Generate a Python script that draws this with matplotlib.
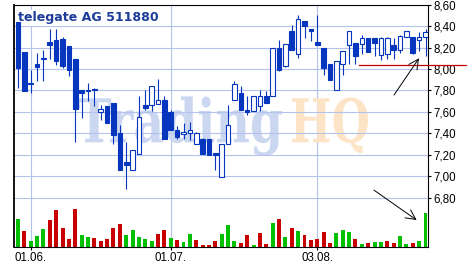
import matplotlib
matplotlib.use("Agg")
import matplotlib.pyplot as plt
import numpy as np
from matplotlib.textpath import TextPath
from matplotlib.patches import PathPatch
from matplotlib.font_manager import FontProperties
from matplotlib.transforms import Affine2D

# daily candles, 28.05. - 26.08.
opens = [8.44, 8.16, 7.86, 8.05, 8.09, 8.25, 8.27, 8.28, 8.21, 8.09,
         7.80, 7.79, 7.80, 7.60, 7.65, 7.68, 7.40, 7.13, 7.06, 7.21,
         7.66, 7.66, 7.67, 7.71, 7.60, 7.43, 7.39, 7.40, 7.30, 7.35,
         7.35, 7.21, 6.99, 7.30, 7.71, 7.78, 7.62, 7.61, 7.65, 7.75,
         7.75, 8.20, 8.03, 8.35, 8.14, 8.45, 8.37, 8.25, 8.20, 8.05,
         7.80, 8.05, 8.22, 8.24, 8.23, 8.29, 8.29, 8.13, 8.14, 8.22,
         8.18, 8.30, 8.30, 8.27, 8.30]
highs = [8.44, 8.16, 7.99, 8.15, 8.18, 8.37, 8.37, 8.30, 8.21, 8.09,
         7.80, 7.87, 7.82, 7.66, 7.65, 7.68, 7.48, 7.32, 7.24, 7.75,
         7.80, 7.84, 7.91, 7.75, 7.62, 7.47, 7.50, 7.51, 7.41, 7.36,
         7.35, 7.21, 7.30, 7.66, 7.89, 7.84, 7.75, 7.75, 7.80, 7.79,
         8.20, 8.27, 8.23, 8.41, 8.50, 8.45, 8.37, 8.50, 8.20, 8.05,
         8.07, 8.17, 8.35, 8.24, 8.32, 8.29, 8.29, 8.30, 8.30, 8.29,
         8.32, 8.35, 8.30, 8.34, 8.37]
lows = [7.82, 7.79, 7.78, 7.89, 7.89, 8.09, 8.04, 8.01, 7.93, 7.32,
        7.54, 7.70, 7.65, 7.52, 7.50, 7.30, 7.06, 6.88, 7.06, 7.21,
        7.62, 7.61, 7.67, 7.35, 7.43, 7.35, 7.35, 7.34, 7.30, 7.21,
        7.20, 7.06, 6.99, 7.30, 7.71, 7.62, 7.57, 7.61, 7.61, 7.68,
        7.75, 7.98, 8.02, 8.18, 8.10, 8.29, 8.26, 8.22, 7.94, 7.90,
        7.80, 7.94, 8.05, 8.05, 8.14, 8.16, 8.12, 8.08, 8.09, 8.09,
        8.15, 8.30, 8.14, 8.17, 8.12]
closes = [8.01, 7.79, 7.86, 8.02, 8.09, 8.22, 8.07, 8.03, 7.99, 7.63,
          7.78, 7.79, 7.80, 7.63, 7.50, 7.38, 7.06, 7.10, 7.24, 7.55,
          7.64, 7.84, 7.71, 7.35, 7.43, 7.37, 7.41, 7.43, 7.40, 7.21,
          7.20, 7.20, 7.30, 7.48, 7.86, 7.62, 7.60, 7.75, 7.75, 7.68,
          8.20, 7.99, 8.23, 8.18, 8.47, 8.40, 8.35, 8.22, 8.01, 7.90,
          8.07, 8.17, 8.35, 8.12, 8.29, 8.16, 8.24, 8.29, 8.29, 8.18,
          8.31, 8.35, 8.15, 8.30, 8.34]
volumes = [28, 16, 6, 11, 18, 27, 37, 19, 8, 38,
           12, 10, 9, 6, 8, 19, 23, 12, 17, 10,
           8, 6, 13, 17, 9, 7, 5, 13, 7, 2,
           2, 6, 13, 22, 6, 4, 12, 2, 14, 3,
           24, 28, 10, 19, 16, 12, 7, 8, 15, 4,
           14, 17, 15, 8, 3, 4, 5, 5, 6, 4,
           11, 3, 4, 6, 34]
vol_up = "grgggrrrrrggrrrrrgggggrrgrggrrrrgggrrgrrgrgrgrrrrrgggrgrggrrggrgg"
date_idx = [2, 24, 47]
date_labels = ["01.06.", "01.07.", "03.08."]
price_ticks = [6.80, 7.00, 7.20, 7.40, 7.60, 7.80, 8.00, 8.20, 8.40, 8.60]
support = 8.035

BLUE = "#0536bd"
GRID = "#b4c3ec"

o = np.array(opens); h = np.array(highs); l = np.array(lows); c = np.array(closes)
x = np.arange(len(o))

fig = plt.figure(figsize=(4.68, 2.63), dpi=100)
pos = [14 / 468, 16 / 263, 414 / 468, 242.4 / 263]
axv = fig.add_axes(pos)
ax = fig.add_axes(pos, sharex=axv)
ax.patch.set_alpha(0)

# volume (bottom layer, carries the vertical grid)
vcol = ["#00c000" if v == "g" else "#c80000" for v in vol_up]
axv.bar(x, volumes, width=0.62, color=vcol, zorder=3)
axv.set_ylim(0, 242.4)
axv.set_yticks([])
axv.grid(axis="x", color=GRID, lw=0.8)
axv.tick_params(axis="x", length=0, labelbottom=False)
for s in axv.spines.values():
    s.set_visible(False)

# candles
ax.vlines(x, l, h, color=BLUE, lw=0.8, zorder=3)
up = c >= o
bottom = np.minimum(o, c)
height = np.maximum(np.abs(c - o), 0.012)
ax.bar(x[up], height[up], bottom=bottom[up], width=0.72, facecolor="white",
       edgecolor=BLUE, lw=0.8, zorder=4)
ax.bar(x[~up], height[~up], bottom=bottom[~up], width=0.72, facecolor=BLUE,
       edgecolor=BLUE, lw=0.8, zorder=4)

ax.set_xlim(-0.62, 64.39)
ax.set_ylim(6.34, 8.60)
ax.set_xticks(date_idx)
ax.set_xticklabels(date_labels)
ax.set_yticks(price_ticks)
ax.set_yticklabels([f"{p:.2f}".replace(".", ",") for p in price_ticks])
ax.yaxis.tick_right()
ax.grid(axis="y", color=GRID, lw=0.8)
ax.tick_params(axis="y", length=2.5, width=0.8, pad=1.5, labelsize=8.3)
ax.tick_params(axis="x", length=2.5, width=0.8, pad=0.8, labelsize=8.3)
for lab in ax.get_xticklabels() + ax.get_yticklabels():
    lab.set_family("Liberation Sans")
for s in ["top", "right", "bottom"]:
    ax.spines[s].set_linewidth(0.8)
ax.spines["left"].set_linewidth(1.3)

# watermark
def watermark(word, x0, x1, color):
    fp = FontProperties(family="DejaVu Serif", weight="bold")
    tp = TextPath((0, 0), word, size=100, prop=fp)
    ext = tp.get_extents()
    sx = (x1 - x0) / ext.width
    sy = 44 / 72.9
    tr = (Affine2D().translate(-ext.x0, 0).scale(sx / 100, sy / 100)
          .translate(x0 / 100, 120.7 / 100) + fig.dpi_scale_trans)
    ax.add_patch(PathPatch(tp, transform=tr, fc=color, ec="none", zorder=1))

watermark("Trading", 77, 282, "#cbd6f1")
watermark("HQ", 292, 368, "#fde4c6")

ax.text(0.01, 0.972, "telegate AG 511880", transform=ax.transAxes, ha="left",
        va="top", fontsize=9.1, fontweight="bold", color="#1d3d98", zorder=2.4,
        bbox=dict(facecolor="white", edgecolor="none", pad=1.2))

# support line and arrows
ax.plot([53.55, 70.4], [support, support], color="#c00000", lw=0.9,
        clip_on=False, zorder=5)
ax.annotate("", xy=(62.98, 8.10), xytext=(59.05, 7.757),
            arrowprops=dict(arrowstyle="->,head_length=0.7,head_width=0.35",
                            color="black", lw=0.7, shrinkA=0, shrinkB=0), zorder=6)
ax.annotate("", xy=(62.61, 6.591), xytext=(55.91, 6.870),
            arrowprops=dict(arrowstyle="->,head_length=0.7,head_width=0.35",
                            color="black", lw=0.7, shrinkA=0, shrinkB=0), zorder=6)

fig.savefig("out.png", dpi=100)
